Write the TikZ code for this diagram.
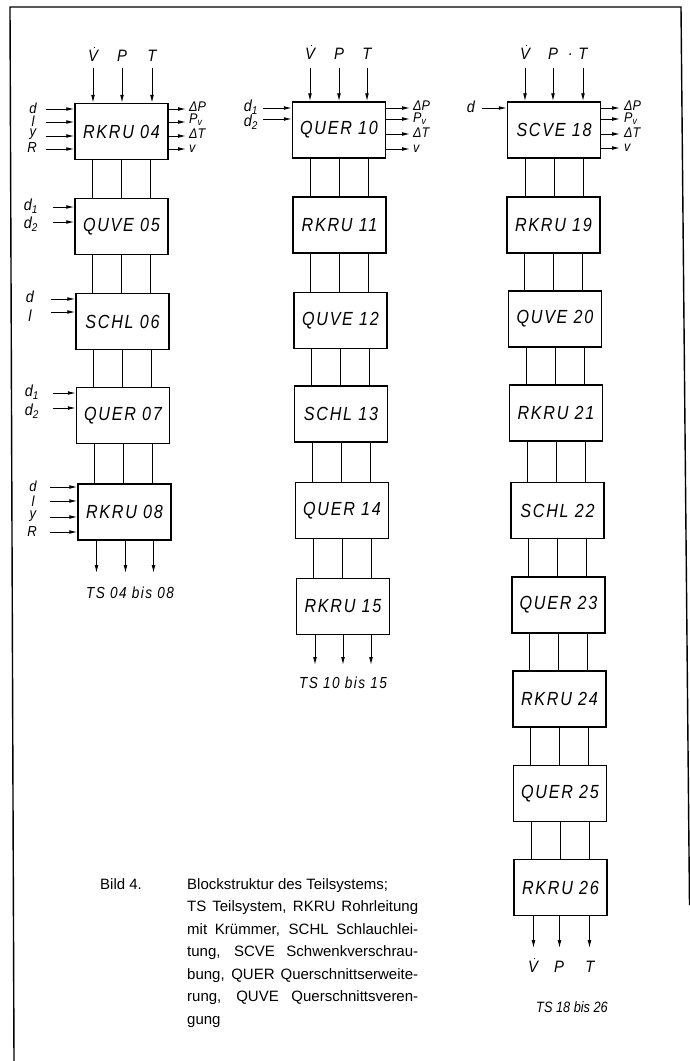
\documentclass[tikz,border=0pt]{standalone}
\usepackage{fontspec}
\setmainfont{Liberation Sans}
\newfontfamily\dinfont{Liberation Sans}[FakeStretch=0.85,LetterSpace=9]
\newfontfamily\dinnarrow{Liberation Sans}[FakeStretch=0.85]
\newfontfamily\portfont{Liberation Sans}[FakeStretch=0.9]
\usetikzlibrary{arrows.meta}
% V with a dot above (volume flow)
\newcommand\Vd{\ooalign{V\cr\hidewidth\kern0.2em\raisebox{0.82em}{\rule{1.3pt}{1.3pt}}\hidewidth\cr}}
\tikzset{
  blk/.style={draw,line width=1.5pt,minimum width=93pt,minimum height=56pt,inner sep=0pt,
    font=\dinfont\itshape\fontsize{19}{19}\selectfont},
  conn/.style={line width=0.9pt},
  arr/.style={line width=0.9pt,-{Latex[length=8pt,width=3.8pt]}},
  lab/.style={inner sep=0pt,font=\portfont\itshape\fontsize{16}{16}\selectfont},
  stacklab/.style={inner sep=0pt,font=\portfont\itshape\fontsize{14.5}{14.5}\selectfont},
  toplab/.style={inner sep=0pt,font=\portfont\itshape\fontsize{16.5}{16.5}\selectfont},
  outlab/.style={inner sep=0pt,anchor=west,font=\portfont\itshape\fontsize{14}{14}\selectfont},
  tslab/.style={inner sep=0pt,font=\dinfont\itshape\fontsize{16}{16}\selectfont},
  frame/.style={line width=1.4pt},
  caption/.style={inner sep=0pt,anchor=north west,align=left,font=\fontsize{15}{22.5}\selectfont},
}
\newcommand\lnk[2]{\foreach \dx in {-29,0,29}{\draw[conn] ([xshift=\dx pt]#1.south) -- ([xshift=\dx pt]#1.south |- #2.north);}}
\begin{document}
\begin{tikzpicture}[x=1pt,y=-1pt]
\useasboundingbox (0,0) rectangle (690,1061);
% outer frame
\draw[frame] (14,1061) -- (10,7) -- (681,7) -- (689.5,905);

% ---------- column 1 ----------
\node[blk] (b04) at (121.5,131.5) {RKRU 04};
\node[blk] (b05) at (121.5,226.5) {QUVE 05};
\node[blk] (b06) at (122.5,321.5) {SCHL 06};
\node[blk] (b07) at (123,415.5) {QUER 07};
\node[blk] (b08) at (124.5,512) {RKRU 08};
\lnk{b04}{b05}\lnk{b05}{b06}\lnk{b06}{b07}\lnk{b07}{b08}
% inputs from above
\node[toplab] (v04) at (93,56) {\Vd};
\node[toplab] (p04) at (122,56) {P};
\node[toplab] (T04) at (152,56) {T};
\foreach \nm/\x in {a/93,b/122,c/152}{
  \coordinate (t04\nm) at (\x,68);
  \draw[arr] (t04\nm) -- (t04\nm |- b04.north);}
% side inputs
\foreach \nm/\y in {a/109,b/122,c/136,d/149}{
  \coordinate (s04\nm) at (46,\y); \draw[arr] (s04\nm) -- (s04\nm -| b04.west);}
\node[stacklab] (l04a) at (33,108) {d};
\node[stacklab] (l04b) at (33,121.5) {l};
\node[stacklab] (l04c) at (33,134) {y};
\node[stacklab] (l04d) at (32,148) {R};
% outputs to the right
\foreach \nm/\y in {a/109,b/122,c/136,d/149}{
  \coordinate (r04\nm) at (186,\y); \draw[arr] (r04\nm -| b04.east) -- (r04\nm);}
\node[outlab] (o04a) at (189,107) {ΔP};
\node[outlab] (o04b) at (189,120) {P\textsubscript{v}};
\node[outlab] (o04c) at (189,134) {ΔT};
\node[outlab] (o04d) at (189,149) {v};
% QUVE 05
\foreach \nm/\y in {a/207,b/222}{
  \coordinate (s05\nm) at (53,\y); \draw[arr] (s05\nm) -- (s05\nm -| b05.west);}
\node[lab] (l05a) at (31,206) {d\textsubscript{1}};
\node[lab] (l05b) at (31,224) {d\textsubscript{2}};
% SCHL 06
\foreach \nm/\y in {a/299,b/312}{
  \coordinate (s06\nm) at (51,\y); \draw[arr] (s06\nm) -- (s06\nm -| b06.west);}
\node[lab] (l06a) at (30,297) {d};
\node[lab] (l06b) at (30,316) {l};
% QUER 07
\foreach \nm/\y in {a/393,b/408}{
  \coordinate (s07\nm) at (53,\y); \draw[arr] (s07\nm) -- (s07\nm -| b07.west);}
\node[lab] (l07a) at (32,392) {d\textsubscript{1}};
\node[lab] (l07b) at (32,411) {d\textsubscript{2}};
% RKRU 08
\foreach \nm/\y in {a/487,b/501,c/517,d/532}{
  \coordinate (s08\nm) at (50,\y); \draw[arr] (s08\nm) -- (s08\nm -| b08.west);}
\node[stacklab] (l08a) at (33,486) {d};
\node[stacklab] (l08b) at (33,501) {l};
\node[stacklab] (l08c) at (33,516) {y};
\node[stacklab] (l08d) at (32,532) {R};
\foreach \nm/\dx in {a/-28,b/1,c/29}{
  \coordinate (e08\nm) at ([xshift=\dx pt]b08.south |- 0,573);
  \draw[arr] ([xshift=\dx pt]b08.south) -- (e08\nm);}
\node[tslab] (ts1) at (130,593) {TS 04 bis 08};

% ---------- column 2 ----------
\node[blk] (b10) at (339,130) {QUER 10};
\node[blk] (b11) at (339.5,225) {RKRU 11};
\node[blk] (b12) at (340.5,320.5) {QUVE 12};
\node[blk] (b13) at (341,414) {SCHL 13};
\node[blk] (b14) at (342,510.5) {QUER 14};
\node[blk] (b15) at (343,606.5) {RKRU 15};
\lnk{b10}{b11}\lnk{b11}{b12}\lnk{b12}{b13}\lnk{b13}{b14}\lnk{b14}{b15}
\node[toplab] (v10) at (310,54) {\Vd};
\node[toplab] (p10) at (339,54) {P};
\node[toplab] (T10) at (367,54) {T};
\foreach \nm/\x in {a/310,b/339,c/367}{
  \coordinate (t10\nm) at (\x,68);
  \draw[arr] (t10\nm) -- (t10\nm |- b10.north);}
\foreach \nm/\y in {a/108,b/119}{
  \coordinate (s10\nm) at (263,\y); \draw[arr] (s10\nm) -- (s10\nm -| b10.west);}
\node[lab] (l10a) at (251,107) {d\textsubscript{1}};
\node[lab] (l10b) at (251,122) {d\textsubscript{2}};
\foreach \nm/\y in {a/108,b/119,c/134,d/149}{
  \coordinate (r10\nm) at (410,\y); \draw[arr] (r10\nm -| b10.east) -- (r10\nm);}
\node[outlab] (o10a) at (413,106) {ΔP};
\node[outlab] (o10b) at (413,118.5) {P\textsubscript{v}};
\node[outlab] (o10c) at (413,133) {ΔT};
\node[outlab] (o10d) at (413,149) {v};
\foreach \nm/\dx in {a/-28,b/0,c/28}{
  \coordinate (e15\nm) at ([xshift=\dx pt]b15.south |- 0,665);
  \draw[arr] ([xshift=\dx pt]b15.south) -- (e15\nm);}
\node[tslab] (ts2) at (343,683) {TS 10 bis 15};

% ---------- column 3 ----------
\node[blk] (b18) at (554,130) {SCVE 18};
\node[blk] (b19) at (553.5,225) {RKRU 19};
\node[blk] (b20) at (555,319) {QUVE 20};
\node[blk] (b21) at (556,413) {RKRU 21};
\node[blk] (b22) at (557.5,510.5) {SCHL 22};
\node[blk] (b23) at (558.5,605) {QUER 23};
\node[blk] (b24) at (559.5,699) {RKRU 24};
\node[blk] (b25) at (560,793.5) {QUER 25};
\node[blk] (b26) at (560.5,887.5) {RKRU 26};
\lnk{b18}{b19}\lnk{b19}{b20}\lnk{b20}{b21}\lnk{b21}{b22}\lnk{b22}{b23}
\lnk{b23}{b24}\lnk{b24}{b25}\lnk{b25}{b26}
\node[toplab] (v18) at (525,54) {\Vd};
\node[toplab] (p18) at (553,54) {P};
\node[toplab] (dot18) at (571,55) {.};
\node[toplab] (T18) at (583,54) {T};
\foreach \nm/\x in {a/525,b/553,c/583}{
  \coordinate (t18\nm) at (\x,68);
  \draw[arr] (t18\nm) -- (t18\nm |- b18.north);}
\coordinate (s18a) at (482,108); \draw[arr] (s18a) -- (s18a -| b18.west);
\node[lab] (l18a) at (471,107) {d};
\foreach \nm/\y in {a/108,b/119,c/134,d/148}{
  \coordinate (r18\nm) at (620,\y); \draw[arr] (r18\nm -| b18.east) -- (r18\nm);}
\node[outlab] (o18a) at (624,106) {ΔP};
\node[outlab] (o18b) at (624,118.5) {P\textsubscript{v}};
\node[outlab] (o18c) at (624,133) {ΔT};
\node[outlab] (o18d) at (624,148) {v};
\foreach \nm/\dx in {a/-27,b/-1,c/29}{
  \coordinate (e26\nm) at ([xshift=\dx pt]b26.south |- 0,948);
  \draw[arr] ([xshift=\dx pt]b26.south) -- (e26\nm);}
\node[toplab] (v26) at (533,967) {\Vd};
\node[toplab] (p26) at (559,967) {P};
\node[toplab] (T26) at (590,967) {T};
\node[tslab,font=\dinnarrow\itshape\fontsize{15}{15}\selectfont] (ts3) at (572,1007) {TS 18 bis 26};

% ---------- caption ----------
\node[caption] (bild) at (100,878) {Bild 4.};
\node[caption] (cap) at (187,878) {Blockstruktur des Teilsystems;\\
\makebox[231pt][s]{TS Teilsystem, RKRU Rohrleitung}\\
\makebox[231pt][s]{mit Krümmer, SCHL Schlauchlei-}\\
\makebox[231pt][s]{tung, SCVE Schwenkverschrau-}\\
\makebox[231pt][s]{bung, QUER Querschnittserweite-}\\
\makebox[231pt][s]{rung, QUVE Querschnittsveren-}\\
gung};
\end{tikzpicture}
\end{document}
